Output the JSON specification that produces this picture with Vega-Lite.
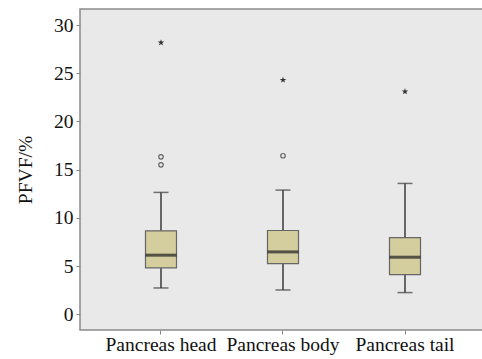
{
  "$schema": "https://vega.github.io/schema/vega-lite/v6.json",
  "width": 410,
  "height": 321,
  "autosize": "none",
  "padding": {"left": 80, "top": 9, "right": 0, "bottom": 29},
  "background": "white",
  "config": {
    "view": {"fill": "#e9e9e9", "stroke": "#8a8a8a", "strokeWidth": 1.5},
    "font": "Liberation Serif"
  },
  "datasets": {
    "stats": [
      {"group": "Pancreas head", "lo": 2.73, "q1": 4.81, "median": 6.13, "q3": 8.65, "hi": 12.64},
      {"group": "Pancreas body", "lo": 2.52, "q1": 5.26, "median": 6.47, "q3": 8.69, "hi": 12.88},
      {"group": "Pancreas tail", "lo": 2.25, "q1": 4.12, "median": 5.92, "q3": 7.96, "hi": 13.57}
    ],
    "mild": [
      {"group": "Pancreas head", "value": 16.33},
      {"group": "Pancreas head", "value": 15.5},
      {"group": "Pancreas body", "value": 16.44}
    ],
    "extreme": [
      {"group": "Pancreas head", "value": 28.17},
      {"group": "Pancreas body", "value": 24.3},
      {"group": "Pancreas tail", "value": 23.1}
    ]
  },
  "encoding": {
    "x": {
      "field": "group",
      "type": "nominal",
      "sort": ["Pancreas head", "Pancreas body", "Pancreas tail"],
      "scale": {"paddingInner": 0, "paddingOuter": 0.1803, "align": 0.4545},
      "axis": {
        "title": null,
        "labelAngle": 0,
        "labelFont": "Liberation Serif",
        "labelFontSize": 19.5,
        "labelColor": "#111",
        "labelPadding": 1,
        "tickSize": 4,
        "tickColor": "#888",
        "domain": false
      }
    }
  },
  "layer": [
    {
      "data": {"name": "stats"},
      "mark": {"type": "rule", "color": "#3a3a3a", "strokeWidth": 1.5},
      "encoding": {
        "y": {
          "field": "lo",
          "type": "quantitative",
          "scale": {"domain": [-1.63, 31.66], "nice": false, "zero": false},
          "axis": {
            "title": "PFVF/%",
            "titleFont": "Liberation Serif",
            "titleFontSize": 19.5,
            "titleFontWeight": "normal",
            "titleColor": "#111",
            "titlePadding": 18,
            "values": [0, 5, 10, 15, 20, 25, 30],
            "labelFont": "Liberation Serif",
            "labelFontSize": 19.5,
            "labelColor": "#111",
            "labelPadding": 3,
            "tickSize": 4,
            "tickColor": "#888",
            "grid": false,
            "domain": false
          }
        },
        "y2": {"field": "hi"}
      }
    },
    {
      "data": {"name": "stats"},
      "mark": {"type": "tick", "color": "#3a3a3a", "thickness": 1.5, "size": 15},
      "encoding": {"y": {"field": "lo", "type": "quantitative"}}
    },
    {
      "data": {"name": "stats"},
      "mark": {"type": "tick", "color": "#3a3a3a", "thickness": 1.5, "size": 15},
      "encoding": {"y": {"field": "hi", "type": "quantitative"}}
    },
    {
      "data": {"name": "stats"},
      "mark": {"type": "bar", "size": 31, "fill": "#d4cd9d", "stroke": "#666", "strokeWidth": 1.2},
      "encoding": {
        "y": {"field": "q1", "type": "quantitative"},
        "y2": {"field": "q3"}
      }
    },
    {
      "data": {"name": "stats"},
      "mark": {"type": "tick", "color": "#1e1e1e", "thickness": 3, "size": 31},
      "encoding": {"y": {"field": "median", "type": "quantitative"}}
    },
    {
      "data": {"name": "mild"},
      "mark": {"type": "point", "shape": "circle", "filled": false, "stroke": "#666", "strokeWidth": 1.2, "size": 20, "opacity": 1},
      "encoding": {"y": {"field": "value", "type": "quantitative"}}
    },
    {
      "data": {"name": "extreme"},
      "mark": {"type": "point", "shape": "M0,-1L0.2245,-0.309L0.951,-0.309L0.363,0.118L0.588,0.809L0,0.382L-0.588,0.809L-0.363,0.118L-0.951,-0.309L-0.2245,-0.309Z", "filled": true, "fill": "#333", "size": 49, "opacity": 1},
      "encoding": {"y": {"field": "value", "type": "quantitative"}}
    }
  ]
}
